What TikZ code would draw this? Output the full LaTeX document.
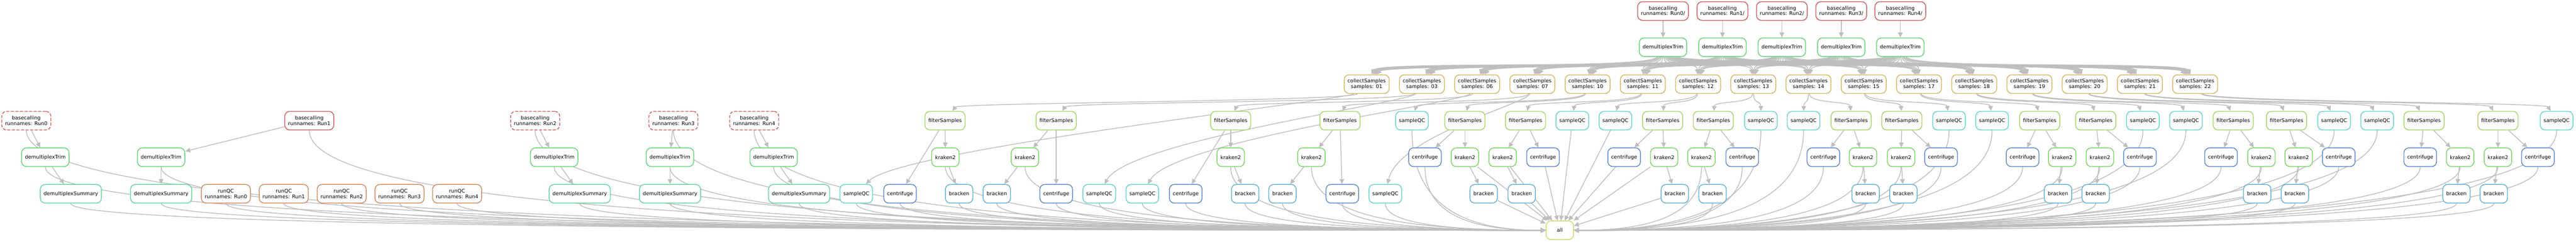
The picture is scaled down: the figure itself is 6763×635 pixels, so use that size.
\documentclass[tikz,border=0pt]{standalone}
\usepackage{fontspec}
\setmainfont{DejaVu Sans}
\usepackage{tikz}
\usetikzlibrary{calc,arrows.meta}
\definecolor{bcred}{HTML}{D95757}
\definecolor{qcorange}{HTML}{D98657}
\definecolor{colgold}{HTML}{D9B557}
\definecolor{allyellow}{HTML}{CFD957}
\definecolor{fsgreen}{HTML}{A0D957}
\definecolor{krgreen}{HTML}{71D957}
\definecolor{trimgreen}{HTML}{57D96C}
\definecolor{summteal}{HTML}{57D99B}
\definecolor{sqcyan}{HTML}{57D9C9}
\definecolor{brblue}{HTML}{57B2D9}
\definecolor{cfblue}{HTML}{5783D9}
\definecolor{depgrey}{HTML}{BEBEBE}
\pgfdeclarelayer{background}
\pgfsetlayers{background,main}
\tikzset{
  job/.style={draw, rounded corners=3.25pt, line width=0.5pt, fill=white, text=black,
    font=\fontsize{3.33}{3.5}\selectfont, align=center, inner xsep=2.2pt, inner ysep=0pt,
    minimum height=12.25pt, minimum width=18pt},
  basecall/.style={job, draw=bcred},
  skipped/.style={dash pattern=on 2pt off 1pt},
  torun/.style={},
  trimjob/.style={job, draw=trimgreen},
  summjob/.style={job, draw=summteal},
  qcjob/.style={job, draw=qcorange},
  collect/.style={job, draw=colgold},
  filterjob/.style={job, draw=fsgreen},
  krakenjob/.style={job, draw=krgreen},
  brackenjob/.style={job, draw=brblue},
  centjob/.style={job, draw=cfblue},
  qcsjob/.style={job, draw=sqcyan},
  alljob/.style={job, draw=allyellow},
  dep/.style={draw=depgrey, line width=0.5pt, -{Triangle[length=3.25pt,width=3pt]}}
}
\newdimen\srcx
\newcommand{\toall}[1]{%
  \pgfextractx{\srcx}{\pgfpointanchor{#1}{south}}%
  \ifdim\srcx<936pt
    \draw[dep] (#1.south) .. controls ($(#1.south)!0.85!(#1.south |- all.west)$)
      and ($(#1.south |- all.west)!0.5!(all.west)$) .. (all.west);%
  \else\ifdim\srcx>1111pt
    \draw[dep] (#1.south) .. controls ($(#1.south)!0.85!(#1.south |- all.east)$)
      and ($(#1.south |- all.east)!0.5!(all.east)$) .. (all.east);%
  \else
    \draw[dep] (#1) -- (all);%
  \fi\fi}
% fanned edge from one row down to the next
\newcommand{\fan}[5]{% source, target, dx, out distance, in distance
  \pgfmathsetmacro\aout{-90+max(-60,min(60,#3/25))}%
  \pgfmathsetmacro\ain{90+max(-45,min(45,#3/30))}%
  \draw[dep] (#1.\aout) .. controls +(\aout:#4) and +(\ain:#5) .. (#2.\ain);}

\begin{document}
\begin{tikzpicture}[x=0.25pt,y=0.25pt]
  \useasboundingbox (0,0) rectangle (6763,635);

  % runs that still need basecalling
  \foreach \cx [count=\i from 0] in {4366,4522,4678,4834,4989} {
    \node[basecall] (bcTop\i) at (\cx,606) {basecalling\\runnames: Run\i/};
    \node[trimjob] (trimTop\i) at (\cx,511) {demultiplexTrim};
  }
  \foreach \smp [count=\k] in {01,03,06,07,10,11,12,13,14,15,17,18,19,20,21,22}
    \node[collect] (col\k) at ({3443+145*\k},414) {collectSamples\\samples: \smp};

  % per run outputs
  \foreach \cx/\look [count=\i from 0] in {69/skipped,812/torun,1405/skipped,1768/skipped,1980/skipped}
    \node[basecall,\look] (bc\i) at (\cx,318) {basecalling\\runnames: Run\i};
  \foreach \cx [count=\i from 0] in {119,423,1455,1759,2031}
    \node[trimjob] (trim\i) at (\cx,222) {demultiplexTrim};
  \foreach \cx [count=\i from 0] in {186,423,1522,1759,2098}
    \node[summjob] (summ\i) at (\cx,126) {demultiplexSummary};
  \foreach \cx [count=\i from 0] in {593,745,897,1049,1200}
    \node[qcjob] (qc\i) at (\cx,126) {runQC\\runnames: Run\i};

  % per sample outputs
  \foreach \xf/\xk/\xb [count=\s] in {2481/2482/2518,2773/2691/2617,3231/3231/3269,3518/3443/3367,
      3846/3846/3895,4005/3945/3995,4365/4369/4397,4498/4467/4496,4860/4891/4898,4993/4991/4997,
      5355/5414/5403,5502/5513/5502,5863/5937/5926,6003/6035/6025,6364/6459/6449,6558/6558/6547} {
    \node[filterjob] (fs\s) at (\xf,318) {filterSamples};
    \node[krakenjob] (kr\s) at (\xk,222) {kraken2};
    \node[brackenjob] (br\s) at (\xb,126) {bracken};
  }
  \foreach \cx/\cy [count=\s] in {2363/126,2773/126,3113/126,3524/126,3741/222,4051/222,4264/222,
      4574/222,4787/222,5096/222,5310/222,5618/222,5831/222,6140/222,6354/222,6663/222}
    \node[centjob] (cf\s) at (\cx,\cy) {centrifuge};
  \foreach \cx/\cy [count=\s] in {2248/126,2886/126,2999/126,3637/126,3707/318,4128/318,4241/318,
      4623/318,4735/318,5117/318,5230/318,5626/318,5739/318,6128/318,6241/318,6712/318}
    \node[qcsjob] (sq\s) at (\cx,\cy) {sampleQC};

  \node[alljob] (all) at (4095,30) {all};

  \begin{pgfonlayer}{background}
    \foreach \cx [count=\i from 0] in {4366,4522,4678,4834,4989} {
      \draw[dep] (bcTop\i) -- (trimTop\i);
      \foreach \k in {1,...,16} {
        \pgfmathsetmacro\dx{3443+145*\k-\cx}
        \fan{trimTop\i}{col\k}{\dx}{40}{40}
      }
    }
    \foreach \i in {0,...,4} {
      \draw[dep] (bc\i) -- (trim\i);
      \draw[dep] (trim\i) -- (summ\i);
      \toall{bc\i}
      \toall{trim\i}
      \toall{summ\i}
      \toall{qc\i}
    }
    \foreach \xf [count=\s] in {2481,2773,3231,3518,3846,4005,4365,4498,4860,4993,5355,5502,5863,6003,6364,6558} {
      \pgfmathsetmacro\dx{\xf-3443-145*\s}
      \fan{col\s}{fs\s}{\dx}{27}{27}
    }
    \foreach \xq [count=\s] in {2248,2886,2999,3637,3707,4128,4241,4623,4735,5117,5230,5626,5739,6128,6241,6712} {
      \pgfmathsetmacro\dx{\xq-3443-145*\s}
      \ifnum\s<5
        \fan{col\s}{sq\s}{\dx}{27}{130}
      \else
        \fan{col\s}{sq\s}{\dx}{27}{27}
      \fi
    }
    \foreach \s in {1,...,16} {
      \draw[dep] (fs\s) -- (kr\s);
      \draw[dep] (fs\s) -- (cf\s);
      \draw[dep] (kr\s) -- (br\s);
      \toall{sq\s}
      \toall{cf\s}
      \toall{kr\s}
      \toall{br\s}
    }
  \end{pgfonlayer}
\end{tikzpicture}
\end{document}
